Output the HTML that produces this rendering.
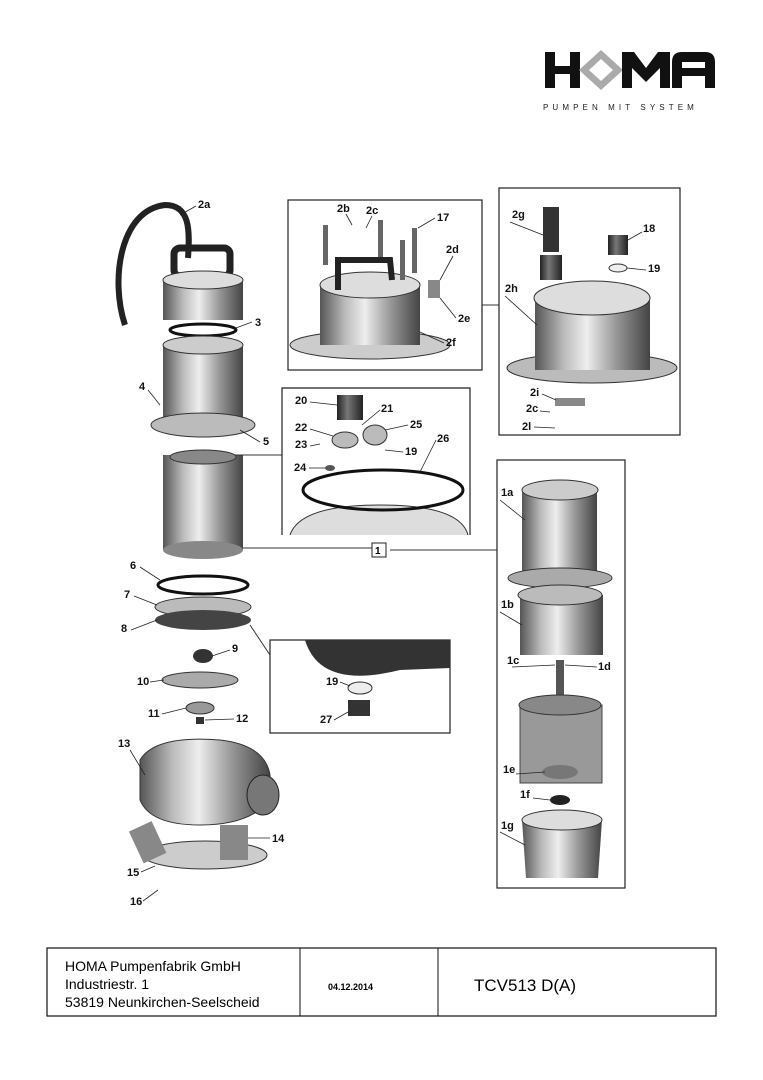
<!DOCTYPE html>
<html><head><style>
body{margin:0;background:#fff;}
svg{display:block}
text{font-family:"Liberation Sans",sans-serif;}
.l{font-size:11px;font-weight:bold;fill:#111}
</style></head><body>
<svg width="763" height="1080" viewBox="0 0 763 1080" xmlns="http://www.w3.org/2000/svg">
<defs>
<linearGradient id="cyl" x1="0" x2="1" y1="0" y2="0">
<stop offset="0" stop-color="#555"/><stop offset="0.25" stop-color="#bbb"/><stop offset="0.45" stop-color="#eee"/><stop offset="0.7" stop-color="#999"/><stop offset="1" stop-color="#444"/>
</linearGradient>
<linearGradient id="dk" x1="0" x2="1" y1="0" y2="0">
<stop offset="0" stop-color="#222"/><stop offset="0.4" stop-color="#777"/><stop offset="1" stop-color="#222"/>
</linearGradient>
</defs>
<!-- logo -->
<g fill="#111">
<rect x="545" y="52" width="10" height="36"/><rect x="570" y="52" width="10" height="36"/><rect x="555" y="66" width="15" height="8"/>
<polygon points="601,50 623,70 601,90 579,70" fill="#aaa"/>
<polygon points="601,59 613,70 601,81 589,70" fill="#fff"/>
<polygon points="622,52 634,52 646,68 658,52 670,52 670,88 660,88 660,68 646,82 632,68 632,88 622,88"/>
<path d="M672,88 L672,62 Q672,52 682,52 L705,52 Q715,52 715,62 L715,88 L705,88 L705,76 L682,76 L682,88 Z M682,62 L682,68 L705,68 L705,62 Z" fill-rule="evenodd"/>
</g>
<text x="543" y="110" font-size="8" letter-spacing="4.1" fill="#222">PUMPEN MIT SYSTEM</text>

<!-- left stack -->
<path d="M125,325 C110,280 120,210 165,205 C190,205 190,230 188,258" fill="none" stroke="#222" stroke-width="6"/>
<rect x="174" y="248" width="56" height="28" rx="6" fill="none" stroke="#222" stroke-width="7"/>
<rect x="163" y="280" width="80" height="40" fill="url(#cyl)"/>
<ellipse cx="203" cy="280" rx="40" ry="9" fill="#ddd" stroke="#333"/>
<ellipse cx="203" cy="330" rx="33" ry="6" fill="none" stroke="#111" stroke-width="3"/>
<rect x="163" y="345" width="80" height="75" fill="url(#cyl)"/>
<ellipse cx="203" cy="345" rx="40" ry="9" fill="#ccc" stroke="#333"/>
<ellipse cx="203" cy="425" rx="52" ry="12" fill="#bbb" stroke="#333"/>
<rect x="163" y="455" width="80" height="95" fill="url(#cyl)"/>
<ellipse cx="203" cy="457" rx="33" ry="7" fill="#888" stroke="#333"/>
<ellipse cx="203" cy="550" rx="40" ry="9" fill="#888"/>
<ellipse cx="203" cy="585" rx="45" ry="9" fill="none" stroke="#111" stroke-width="3"/>
<ellipse cx="203" cy="607" rx="48" ry="10" fill="#bbb" stroke="#333"/>
<ellipse cx="203" cy="620" rx="48" ry="10" fill="#444"/>
<ellipse cx="203" cy="656" rx="10" ry="7" fill="#333"/>
<ellipse cx="200" cy="680" rx="38" ry="8" fill="#aaa" stroke="#333"/>
<ellipse cx="200" cy="708" rx="14" ry="6" fill="#999" stroke="#333"/>
<rect x="196" y="717" width="8" height="7" fill="#333"/>
<path d="M140,760 Q155,735 220,740 Q265,745 270,775 L270,800 Q250,825 200,825 Q150,825 140,800 Z" fill="url(#cyl)" stroke="#333"/>
<ellipse cx="263" cy="795" rx="16" ry="20" fill="#777" stroke="#222"/>
<ellipse cx="205" cy="855" rx="62" ry="14" fill="#ccc" stroke="#333"/>
<rect x="135" y="825" width="25" height="35" fill="#888" transform="rotate(-25 147 842)"/>
<rect x="220" y="825" width="28" height="35" fill="#888"/>
<!-- connection lines -->
<polyline points="243,548 372,548 372,550" fill="none" stroke="#333"/>
<line x1="390" y1="550" x2="497" y2="550" stroke="#333"/>
<rect x="372" y="543" width="14" height="14" fill="#fff" stroke="#222"/>
<text x="375" y="554" font-size="10" font-weight="bold">1</text>
<line x1="235" y1="455" x2="282" y2="455" stroke="#333"/>
<line x1="250" y1="625" x2="270" y2="655" stroke="#333"/>
<line x1="482" y1="305" x2="499" y2="305" stroke="#333"/>
<!-- box1 -->
<rect x="288" y="200" width="194" height="170" fill="none" stroke="#222" stroke-width="1.2"/>
<ellipse cx="370" cy="345" rx="80" ry="14" fill="#ccc" stroke="#333"/>
<rect x="320" y="285" width="100" height="60" fill="url(#cyl)"/>
<ellipse cx="370" cy="285" rx="50" ry="13" fill="#ddd" stroke="#333"/>
<rect x="323" y="225" width="5" height="40" fill="#666"/><rect x="378" y="220" width="5" height="40" fill="#666"/><rect x="400" y="240" width="5" height="40" fill="#666"/><rect x="412" y="228" width="5" height="45" fill="#666"/>
<path d="M338,290 L338,260 L390,260 L392,280" fill="none" stroke="#222" stroke-width="6"/>
<rect x="428" y="280" width="12" height="18" fill="#888"/>
<!-- box2 -->
<rect x="499" y="188" width="181" height="247" fill="none" stroke="#222" stroke-width="1.2"/>
<rect x="543" y="207" width="16" height="45" fill="#333"/><rect x="540" y="255" width="22" height="25" fill="url(#dk)"/>
<rect x="608" y="235" width="20" height="20" fill="url(#dk)"/><ellipse cx="618" cy="268" rx="9" ry="4" fill="#eee" stroke="#333"/>
<ellipse cx="592" cy="368" rx="85" ry="15" fill="#bbb" stroke="#333"/>
<rect x="535" y="298" width="115" height="72" fill="url(#cyl)"/>
<ellipse cx="592" cy="298" rx="58" ry="17" fill="#ddd" stroke="#333"/>
<rect x="555" y="398" width="30" height="8" fill="#888"/>
<!-- box3 -->
<polyline points="282,535 282,388 470,388 470,535" fill="none" stroke="#222" stroke-width="1.2"/>
<rect x="337" y="395" width="26" height="25" fill="url(#dk)"/>
<ellipse cx="345" cy="440" rx="13" ry="8" fill="#bbb" stroke="#333"/>
<ellipse cx="375" cy="435" rx="12" ry="10" fill="#bbb" stroke="#333"/>
<ellipse cx="330" cy="468" rx="5" ry="3" fill="#555"/>
<path d="M290,535 Q300,505 380,505 Q460,505 468,535" fill="#ddd" stroke="#333"/>
<ellipse cx="383" cy="490" rx="80" ry="20" fill="none" stroke="#111" stroke-width="3"/>
<!-- box4 -->
<rect x="497" y="460" width="128" height="428" fill="none" stroke="#222" stroke-width="1.2"/>
<rect x="522" y="490" width="75" height="85" fill="url(#cyl)"/>
<ellipse cx="560" cy="490" rx="38" ry="10" fill="#ccc" stroke="#333"/>
<ellipse cx="560" cy="578" rx="52" ry="10" fill="#aaa" stroke="#333"/>
<rect x="520" y="595" width="83" height="60" fill="url(#cyl)"/>
<ellipse cx="560" cy="595" rx="42" ry="10" fill="#bbb" stroke="#333"/>
<rect x="556" y="660" width="8" height="45" fill="#555"/>
<rect x="520" y="705" width="82" height="78" fill="#999" stroke="#444"/>
<ellipse cx="560" cy="705" rx="41" ry="10" fill="#888" stroke="#333"/>
<ellipse cx="560" cy="772" rx="18" ry="7" fill="#777"/>
<ellipse cx="560" cy="800" rx="10" ry="5" fill="#222"/>
<path d="M522,820 L526,878 L598,878 L602,820 Z" fill="url(#cyl)"/>
<ellipse cx="562" cy="820" rx="40" ry="10" fill="#ddd" stroke="#333"/>
<!-- box5 -->
<rect x="270" y="640" width="180" height="93" fill="none" stroke="#222" stroke-width="1.2"/>
<path d="M305,640 Q320,690 400,670 L450,668 L450,640 Z" fill="#333"/>
<ellipse cx="360" cy="688" rx="12" ry="6" fill="#eee" stroke="#333"/>
<rect x="348" y="700" width="22" height="16" fill="#333"/>
<!-- leader lines -->
<g stroke="#222" stroke-width="0.8" fill="none">
<line x1="196" y1="206" x2="180" y2="215"/><line x1="252" y1="322" x2="236" y2="328"/>
<line x1="148" y1="390" x2="160" y2="405"/><line x1="260" y1="442" x2="240" y2="430"/>
<line x1="140" y1="567" x2="160" y2="580"/><line x1="134" y1="596" x2="157" y2="605"/>
<line x1="131" y1="630" x2="157" y2="620"/><line x1="230" y1="650" x2="212" y2="656"/>
<line x1="150" y1="682" x2="164" y2="680"/><line x1="162" y1="714" x2="186" y2="708"/>
<line x1="234" y1="719" x2="205" y2="720"/><line x1="130" y1="750" x2="145" y2="775"/>
<line x1="270" y1="838" x2="248" y2="838"/><line x1="141" y1="872" x2="155" y2="866"/>
<line x1="143" y1="901" x2="158" y2="890"/>
<line x1="500" y1="500" x2="525" y2="520"/><line x1="500" y1="612" x2="522" y2="625"/>
<line x1="512" y1="667" x2="555" y2="665"/><line x1="597" y1="667" x2="565" y2="665"/>
<line x1="516" y1="774" x2="545" y2="772"/><line x1="533" y1="798" x2="550" y2="800"/>
<line x1="500" y1="832" x2="525" y2="845"/>
<line x1="510" y1="222" x2="543" y2="235"/><line x1="642" y1="232" x2="628" y2="240"/>
<line x1="646" y1="270" x2="627" y2="268"/><line x1="505" y1="296" x2="537" y2="325"/>
<line x1="542" y1="394" x2="556" y2="400"/><line x1="540" y1="411" x2="550" y2="412"/>
<line x1="534" y1="427" x2="555" y2="428"/>
<line x1="346" y1="214" x2="352" y2="225"/><line x1="372" y1="216" x2="366" y2="228"/>
<line x1="435" y1="218" x2="418" y2="228"/><line x1="453" y1="256" x2="440" y2="280"/>
<line x1="456" y1="318" x2="440" y2="298"/><line x1="444" y1="343" x2="420" y2="332"/>
<line x1="310" y1="402" x2="337" y2="405"/><line x1="380" y1="410" x2="362" y2="425"/>
<line x1="310" y1="429" x2="333" y2="436"/><line x1="408" y1="425" x2="385" y2="430"/>
<line x1="310" y1="446" x2="320" y2="444"/><line x1="436" y1="440" x2="420" y2="472"/>
<line x1="403" y1="452" x2="385" y2="450"/><line x1="309" y1="468" x2="325" y2="468"/>
<line x1="340" y1="682" x2="350" y2="686"/><line x1="334" y1="720" x2="348" y2="712"/>
</g>
<!-- labels -->
<g class="l">
<text x="198" y="208" class="l">2a</text><text x="255" y="326" class="l">3</text>
<text x="139" y="390" class="l">4</text><text x="263" y="445" class="l">5</text>
<text x="130" y="569" class="l">6</text><text x="124" y="598" class="l">7</text>
<text x="121" y="632" class="l">8</text><text x="232" y="652" class="l">9</text>
<text x="137" y="685" class="l">10</text><text x="148" y="717" class="l">11</text>
<text x="236" y="722" class="l">12</text><text x="118" y="747" class="l">13</text>
<text x="272" y="842" class="l">14</text><text x="127" y="876" class="l">15</text>
<text x="130" y="905" class="l">16</text>
<text x="337" y="212" class="l">2b</text><text x="366" y="214" class="l">2c</text>
<text x="437" y="221" class="l">17</text><text x="446" y="253" class="l">2d</text>
<text x="458" y="322" class="l">2e</text><text x="446" y="346" class="l">2f</text>
<text x="512" y="218" class="l">2g</text><text x="643" y="232" class="l">18</text>
<text x="648" y="272" class="l">19</text><text x="505" y="292" class="l">2h</text>
<text x="530" y="396" class="l">2i</text><text x="526" y="412" class="l">2c</text>
<text x="522" y="430" class="l">2l</text>
<text x="295" y="404" class="l">20</text><text x="381" y="412" class="l">21</text>
<text x="295" y="431" class="l">22</text><text x="410" y="428" class="l">25</text>
<text x="295" y="448" class="l">23</text><text x="437" y="442" class="l">26</text>
<text x="405" y="455" class="l">19</text><text x="294" y="471" class="l">24</text>
<text x="501" y="496" class="l">1a</text><text x="501" y="608" class="l">1b</text>
<text x="507" y="664" class="l">1c</text><text x="598" y="670" class="l">1d</text>
<text x="503" y="773" class="l">1e</text><text x="520" y="798" class="l">1f</text>
<text x="501" y="829" class="l">1g</text>
<text x="326" y="685" class="l">19</text><text x="320" y="723" class="l">27</text>
</g>
<!-- footer -->
<rect x="47" y="948" width="669" height="68" fill="none" stroke="#111" stroke-width="1.2"/>
<line x1="300" y1="948" x2="300" y2="1016" stroke="#111"/>
<line x1="438" y1="948" x2="438" y2="1016" stroke="#111"/>
<text x="65" y="971" font-size="14">HOMA Pumpenfabrik GmbH</text>
<text x="65" y="989" font-size="14">Industriestr. 1</text>
<text x="65" y="1007" font-size="14">53819 Neunkirchen-Seelscheid</text>
<text x="328" y="990" font-size="9" font-weight="bold">04.12.2014</text>
<text x="474" y="991" font-size="17">TCV513 D(A)</text>
</svg>
</body></html>
